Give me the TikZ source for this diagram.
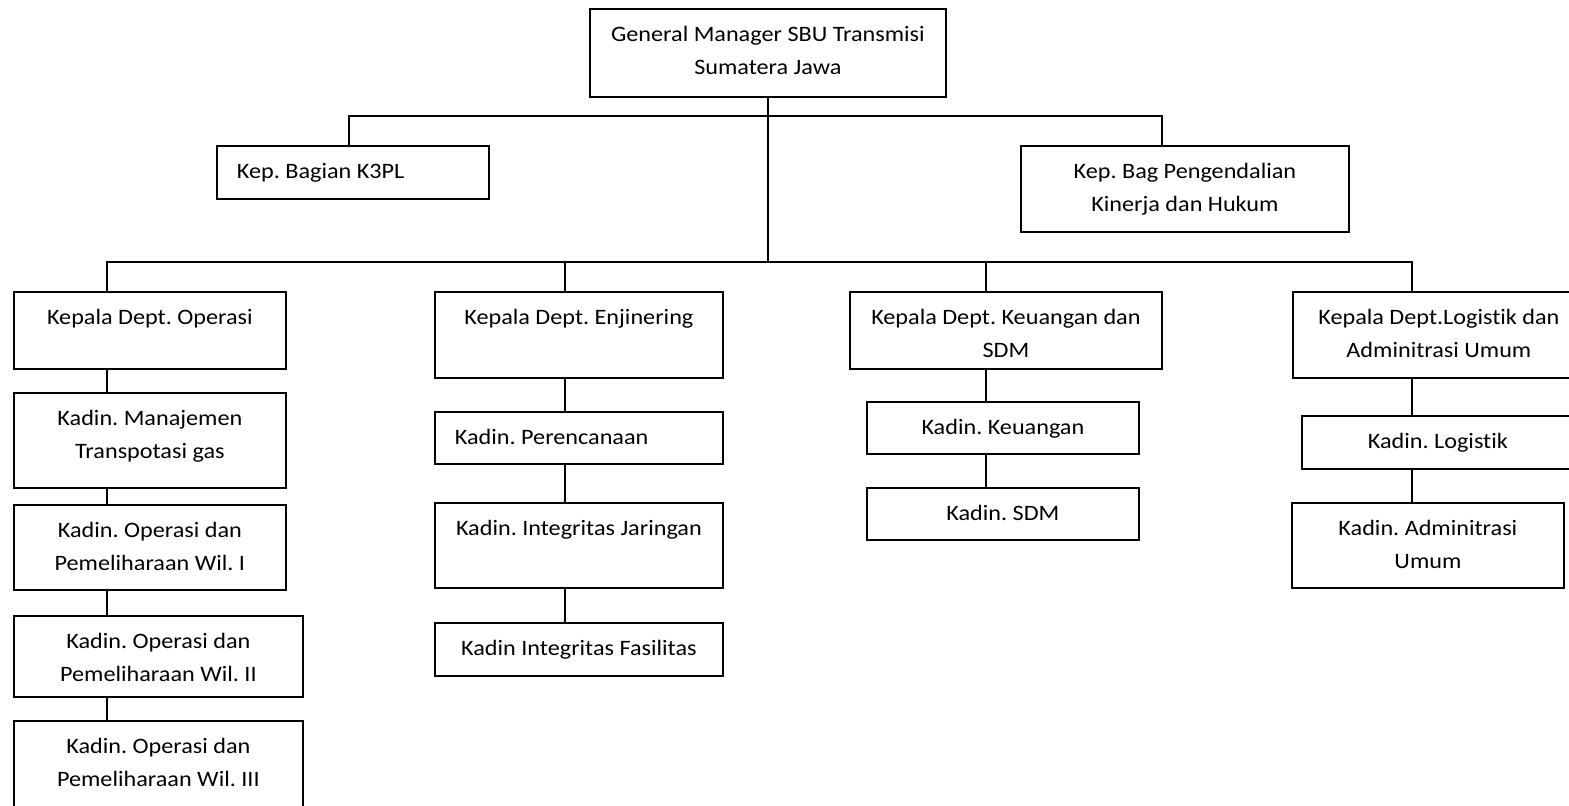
\documentclass[tikz,border=0pt]{standalone}
\usepackage{fontspec}
\setmainfont{Carlito}[FakeStretch=1.1,Ligatures=NoCommon]
\frenchspacing
\newcommand{\orgc}[3]{\parbox[c][#2][t]{#1}{\fontsize{11}{16.5}\selectfont\frenchspacing\centering\rule{0pt}{16.5pt}#3\par}}
\newcommand{\orgl}[3]{\parbox[c][#2][t]{#1}{\fontsize{11}{16.5}\selectfont\frenchspacing\raggedright\rule{0pt}{16.5pt}\hspace*{10pt}#3\par}}
\begin{document}
\begin{tikzpicture}[x=0.5pt,y=-0.5pt,
  orgbox/.style={draw=black, line width=0.9pt, inner sep=0pt, anchor=north west, fill=white},
  conn/.style={draw=black, line width=0.9pt}]
\clip (0,0) rectangle (1569,806);
\fill[white] (0,0) rectangle (1569,806);

% boxes
\node[orgbox] (gm)   at (589,8)   {\orgc{178pt}{44pt}{General Manager SBU Transmisi\\Sumatera Jawa}};
\node[orgbox] (k3pl) at (216,145) {\orgl{136pt}{26.5pt}{Kep. Bagian K3PL}};
\node[orgbox] (peng) at (1020,145){\orgc{164pt}{43pt}{Kep. Bag Pengendalian\\Kinerja dan Hukum}};

\node[orgbox] (dop)  at (13,291)  {\orgc{136pt}{38.5pt}{Kepala Dept. Operasi}};
\node[orgbox] (den)  at (434,291) {\orgc{144pt}{43pt}{Kepala Dept. Enjinering}};
\node[orgbox] (dke)  at (849,291) {\orgc{156pt}{38.5pt}{Kepala Dept. Keuangan dan\\SDM}};
\node[orgbox] (dlo)  at (1292,291){\orgc{146pt}{43pt}{Kepala Dept.Logistik dan\\Adminitrasi Umum}};

\node[orgbox] (kman) at (13,392)  {\orgc{136pt}{47.5pt}{Kadin. Manajemen\\Transpotasi gas}};
\node[orgbox] (kop1) at (13,504)  {\orgc{136pt}{42.5pt}{Kadin. Operasi dan\\Pemeliharaan Wil. I}};
\node[orgbox] (kop2) at (13,615)  {\orgc{144.5pt}{40.5pt}{Kadin. Operasi dan\\Pemeliharaan Wil. II}};
\node[orgbox] (kop3) at (13,720)  {\orgc{144.5pt}{55pt}{Kadin. Operasi dan\\Pemeliharaan Wil. III}};

\node[orgbox] (kper) at (434,411) {\orgl{144pt}{26pt}{Kadin. Perencanaan}};
\node[orgbox] (kij)  at (434,502) {\orgc{144pt}{42.5pt}{Kadin. Integritas Jaringan}};
\node[orgbox] (kif)  at (434,622) {\orgc{144pt}{26.5pt}{Kadin Integritas Fasilitas}};

\node[orgbox] (kkeu) at (866,401) {\orgc{136pt}{26pt}{Kadin. Keuangan}};
\node[orgbox] (ksdm) at (866,487) {\orgc{136pt}{26pt}{Kadin. SDM}};

\node[orgbox] (klog) at (1301,415){\orgc{136pt}{26.5pt}{Kadin. Logistik}};
\node[orgbox] (kadm) at (1291,502){\orgc{136pt}{42.5pt}{Kadin. Adminitrasi\\Umum}};

% bus coordinates
\coordinate (bl) at (349,116);
\coordinate (br) at (1162,116);
\coordinate (c1) at (107,262);
\coordinate (c2) at (565,262);
\coordinate (c3) at (986,262);
\coordinate (c4) at (1412,262);

% connectors
\draw[conn] (gm.south) -- (gm.south |- c1);
\draw[conn] (k3pl.north -| bl) -- (bl) -- (br) -- (br |- peng.north);
\draw[conn] (c1 |- dop.north) -- (c1) -- (c4) -- (c4 |- dlo.north);
\draw[conn] (c2) -- (c2 |- den.north);
\draw[conn] (c3) -- (c3 |- dke.north);

\draw[conn] (c1 |- dop.south) -- (c1 |- kman.north);
\draw[conn] (c1 |- kman.south) -- (c1 |- kop1.north);
\draw[conn] (c1 |- kop1.south) -- (c1 |- kop2.north);
\draw[conn] (c1 |- kop2.south) -- (c1 |- kop3.north);

\draw[conn] (c2 |- den.south) -- (c2 |- kper.north);
\draw[conn] (c2 |- kper.south) -- (c2 |- kij.north);
\draw[conn] (c2 |- kij.south) -- (c2 |- kif.north);

\draw[conn] (c3 |- dke.south) -- (c3 |- kkeu.north);
\draw[conn] (c3 |- kkeu.south) -- (c3 |- ksdm.north);

\draw[conn] (c4 |- dlo.south) -- (c4 |- klog.north);
\draw[conn] (c4 |- klog.south) -- (c4 |- kadm.north);
\end{tikzpicture}
\end{document}
